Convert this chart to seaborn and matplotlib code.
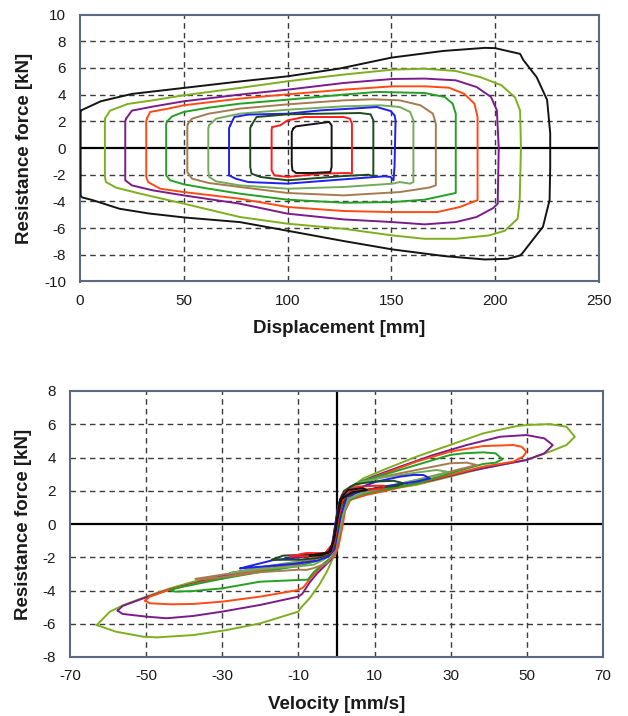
import numpy as np
import pandas as pd
import matplotlib
matplotlib.use("Agg")
import matplotlib.pyplot as plt
import seaborn as sns

# ---------------- data: force vs displacement loops (x [mm], y [kN]) ----------------
disp_black_in = [(102.7, 1.45), (104, 1.62), (116, 1.87), (120, 1.95), (121.2, 1.7), (121.2, -1.42),
                 (120.6, -1.8), (112, -1.87), (104, -1.87), (102.3, -1.67), (102, -1.17), (102, 1.2)]
disp_red = [(92.6, 1.57), (96.5, 1.7), (100, 2.07), (108, 2.32), (127, 2.32), (130, 2.2), (131, 1.82),
            (131, -1.92), (129, -1.87), (116, -1.92), (100, -2.17), (93.6, -2.05), (92.3, -1.67), (92.3, 1.4)]
disp_dkgreen = [(82.6, 1.7), (85, 2.32), (100, 2.52), (116, 2.57), (135, 2.62), (140, 2.52), (141.3, 2.07),
                (141.3, -2.12), (139, -2.0), (127, -2.1), (100, -2.42), (86.9, -2.17), (82.6, -1.92),
                (82, -1.42), (82, 1.5)]
disp_blue = [(72.4, 1.7), (74.3, 2.32), (81, 2.5), (100, 2.57), (116, 2.82), (131, 2.95), (143, 3.07),
             (149.6, 2.77), (151.5, 2.45), (152, 2.07), (151.5, -1.42), (151, -2.42), (149.6, -2.17),
             (146.7, -2.12), (131, -2.3), (100, -2.67), (81, -2.55), (75, -2.3), (71.8, -2.05), (71.8, 1.5)]
disp_ltgreen = [(62.2, 1.7), (65.6, 2.2), (77, 2.57), (100, 2.87), (127, 3.12), (144.8, 3.2), (154, 3.07),
                (159, 2.7), (160.6, 2.07), (160.6, -2.55), (159, -2.67), (154, -2.55), (150.6, -2.67),
                (127, -2.92), (100, -3.05), (77, -2.8), (65.6, -2.5), (62.2, -2.17), (61.8, -1.67), (61.8, 1.5)]
disp_brown = [(52, 1.82), (54, 2.2), (62, 2.57), (77, 2.95), (100, 3.27), (127, 3.57), (141, 3.65),
              (154, 3.57), (164, 3.2), (170, 2.57), (171.4, 1.82), (171.4, -2.8), (168, -2.97),
              (154, -3.3), (127, -3.55), (100, -3.37), (77, -2.92), (62, -2.62), (54, -2.3), (51.7, -1.8),
              (51.7, 1.6)]
disp_green = [(42, 2.0), (44.4, 2.37), (50, 2.7), (62, 3.02), (77, 3.32), (100, 3.62), (127, 4.0),
              (143, 4.2), (166, 4.12), (175.7, 3.82), (179.5, 3.32), (181, 2.57), (181, -3.37),
              (179.5, -3.42), (166, -3.87), (150.6, -4.05), (127, -4.1), (100, -3.87), (77, -3.42),
              (62, -3.05), (50, -2.72), (43.4, -2.42), (41.5, -2.05), (41.5, 1.8)]
disp_orange = [(32.2, 2.2), (33.8, 2.7), (42.5, 2.95), (50, 3.2), (77, 3.7), (100, 4.02), (127, 4.37),
               (150.6, 4.62), (166, 4.62), (177.6, 4.52), (185, 4.07), (190, 3.32), (191.5, 2.32),
               (191.5, -3.92), (189, -4.05), (183, -4.42), (172, -4.8), (150.6, -4.8), (127, -4.72),
               (100, -4.42), (77, -3.8), (50, -3.3), (38.6, -3.05), (32.8, -2.55), (31.9, -2.17), (31.9, 2.0)]
disp_purple = [(22.2, 2.2), (25, 2.8), (35, 3.1), (50, 3.5), (77, 4.0), (100, 4.37), (127, 4.87),
               (150.6, 5.17), (166, 5.2), (181, 5.07), (191, 4.57), (198, 3.82), (200.8, 2.82), (201.7, 0.0),
               (201.2, -4.17), (199, -4.5), (191, -5.17), (181, -5.55), (166, -5.72), (150.6, -5.55),
               (127, -5.35), (100, -4.92), (77, -4.17), (50, -3.55), (35, -3.17), (25, -2.8), (21.8, -2.42),
               (21.8, 2.0)]
disp_ygreen = [(12, 2.2), (14.5, 2.8), (23, 3.3), (35, 3.57), (50, 3.95), (77, 4.5), (100, 5.0), (127, 5.5),
               (150.6, 5.87), (166, 5.94), (181, 5.77), (193, 5.3), (203, 4.7), (209.5, 3.8), (212, 2.8),
               (212.4, 0.0), (211.8, -3.9), (210.8, -5.3), (204.6, -6.2), (197, -6.55), (181, -6.8),
               (166, -6.8), (150.6, -6.55), (127, -6.05), (100, -5.67), (77, -5.17), (50, -4.17),
               (29, -3.42), (17.4, -2.97), (12.5, -2.55), (12, -2.17), (12, 2.0)]
disp_black_out = [(0.3, 2.8), (10, 3.5), (25, 4.05), (50, 4.5), (75, 4.95), (100, 5.37), (125, 5.95),
                  (150, 6.77), (175, 7.27), (195, 7.5), (200, 7.48), (205, 7.3), (212, 7.05), (213.5, 6.6),
                  (220, 5.3), (225, 3.6), (226.5, 1.1), (226.5, -1.4), (226.2, -3.9), (223, -5.9),
                  (216, -7.3), (213, -7.9), (212, -8.05), (206, -8.3), (195, -8.35), (175.7, -8.1),
                  (150.6, -7.6), (127, -6.97), (100, -6.2), (77, -5.55), (50, -5.2), (33, -4.9),
                  (19, -4.55), (6, -3.9), (1, -3.7), (0.3, -3.55), (0.3, 2.6)]

# ---------------- data: force vs velocity loops (x [mm/s], y [kN]) ----------------
vel_black = [(-7, -1.9), (-4, -1.88), (-1.5, -1.65), (-0.5, -0.8), (0.4, 0.5), (1.3, 1.5), (4, 1.9),
             (8, 2.05), (7, 2.15), (3, 2.05), (1.0, 1.5), (0.1, 0.3), (-0.8, -1.0), (-2, -1.7),
             (-5, -1.82), (-7, -1.9)]
vel_red = [(-12.2, -1.95), (-8, -1.95), (-4, -1.9), (-1.5, -1.7), (-0.4, -1.0), (0.5, 0.3), (1.5, 1.4),
           (3.5, 1.95), (8, 2.05), (12.3, 2.15), (12.5, 2.3), (10, 2.3), (6, 2.25), (2.5, 2.0), (0.9, 1.3),
           (0, 0.1), (-1, -1.2), (-3, -1.75), (-8, -1.75), (-12.2, -1.95)]
vel_dkgreen = [(-17, -2.15), (-10, -2.15), (-5, -2.05), (-2, -1.85), (-0.6, -1.3), (0.3, -0.2), (1.2, 1.0),
               (2.7, 1.7), (6, 2.0), (12, 2.2), (16, 2.3), (17.6, 2.45), (15, 2.6), (10, 2.55), (5, 2.4),
               (2, 2.0), (0.6, 1.2), (-0.3, -0.2), (-1.2, -1.4), (-3, -1.8), (-8, -1.85), (-14, -1.9),
               (-17, -2.15)]
vel_blue = [(-25.3, -2.67), (-20, -2.57), (-10, -2.37), (-5, -2.2), (-2, -1.95), (-0.5, -1.5), (0.3, -0.5),
            (1.2, 0.6), (2.7, 1.64), (6.2, 1.95), (12.3, 2.25), (21, 2.55), (24.5, 2.75), (22.8, 2.95),
            (20.2, 2.95), (16.7, 2.85), (10.5, 2.55), (4.4, 2.05), (1.9, 1.64), (0.5, 1.04), (-0.4, -0.16),
            (-1.2, -1.3), (-3, -1.8), (-10, -2.01), (-16.6, -2.17), (-20.1, -2.37), (-25.3, -2.67)]
vel_ltgreen = [(-28, -2.95), (-20, -2.7), (-10, -2.55), (-6, -2.45), (-3, -2.1), (-1, -1.7), (0.5, -0.8),
               (1.5, 0.4), (3, 1.5), (7, 1.9), (12, 2.2), (20, 2.6), (27, 2.95), (29, 3.15), (26.3, 3.25),
               (21, 3.09), (12.3, 2.8), (6, 2.5), (2.5, 2.0), (0.8, 1.2), (-0.2, -0.2), (-1.2, -1.4),
               (-3, -1.85), (-10, -2.25), (-20, -2.6), (-28, -2.95)]
vel_brown = [(-37, -3.3), (-35, -3.32), (-30, -3.2), (-20.1, -2.9), (-10, -2.75), (-7.9, -2.76),
             (-6.1, -2.66), (-2.6, -2.36), (-0.4, -1.76), (0.8, -0.56), (1.9, 0.64), (3.6, 1.55), (7.1, 1.85),
             (12.3, 2.15), (21, 2.65), (29.8, 3.15), (35.1, 3.45), (36.8, 3.55), (34.2, 3.69), (29.8, 3.65),
             (21, 3.25), (12.3, 2.85), (6.2, 2.45), (2.7, 1.95), (0.9, 1.14), (-0.1, -0.16), (-1.2, -1.46),
             (-3.5, -1.86), (-10, -2.45), (-20.1, -2.75), (-30, -3.05), (-37, -3.3)]
vel_green = [(-43.7, -3.97), (-42.4, -4.07), (-37.6, -4.03), (-30, -3.87), (-20.1, -3.47), (-10, -3.37),
             (-7.5, -3.35), (-6.0, -2.9), (-3.5, -2.4), (-1.5, -2.05), (-0.5, -1.7), (0.5, -0.96), (1.4, 0.24),
             (2.7, 1.34), (6.2, 1.75), (12.3, 2.05), (21, 2.45), (29.8, 3.05), (38.5, 3.61), (41.8, 3.69),
             (43.6, 3.89), (41.8, 4.25), (38.5, 4.31), (33.2, 4.25), (29.8, 4.15), (21, 3.55), (12.3, 2.95),
             (6.2, 2.55), (2.7, 2.05), (0.9, 1.24), (-0.1, -0.16), (-1.2, -1.36), (-3.0, -1.8),
             (-4.3, -2.17), (-10, -2.53), (-20.1, -2.89), (-30, -3.29), (-41.1, -3.81), (-43.7, -3.97)]
vel_orange = [(-50.3, -4.61), (-49, -4.77), (-43.7, -4.83), (-37.6, -4.81), (-30, -4.67), (-20.1, -4.37),
              (-10, -3.97), (-8.7, -3.81), (-7.0, -3.3), (-5.0, -2.8), (-3.0, -2.35), (-1.5, -2.05),
              (-0.4, -1.9), (0.5, -1.36), (1.4, -0.36), (2.3, 0.84), (3.6, 1.45), (7.9, 1.75), (14, 2.05),
              (21, 2.45), (29.8, 2.95), (38.5, 3.45), (46.4, 3.75), (49, 4.05), (49.9, 4.35), (48.6, 4.65),
              (46.4, 4.75), (38.5, 4.69), (29.8, 4.35), (21, 3.75), (14, 3.15), (7.9, 2.65), (3.6, 2.15),
              (1.9, 1.64), (0.8, 0.84), (-0.1, -0.36), (-0.8, -1.36), (-2.1, -1.76), (-5.2, -2.06),
              (-10, -2.41), (-20.1, -2.81), (-30, -3.21), (-43.7, -3.93), (-49, -4.37), (-50.3, -4.61)]
vel_purple = [(-57.5, -5.21), (-56.2, -5.41), (-50, -5.57), (-44.6, -5.67), (-37.6, -5.53), (-30, -5.27),
              (-20.1, -4.87), (-10, -4.37), (-9.0, -4.2), (-7.0, -3.5), (-5.0, -2.95), (-3.0, -2.5),
              (-1.7, -2.2), (-0.4, -1.76), (0.5, -0.76), (1.4, 0.44), (2.7, 1.45), (5.3, 1.95), (9.6, 2.05),
              (16.7, 2.25), (25.4, 2.65), (34.2, 3.15), (43.0, 3.55), (49.9, 3.85), (54.6, 4.25),
              (56.8, 4.75), (54.6, 5.15), (49.9, 5.35), (43.0, 5.25), (34.2, 4.75), (25.4, 4.15),
              (16.7, 3.45), (9.6, 2.85), (3.6, 2.25), (1.4, 1.75), (0.4, 1.05), (-0.4, -0.15), (-1.0, -1.35),
              (-2.6, -1.8), (-5.2, -2.06), (-10, -2.33), (-20.1, -2.73), (-30, -3.13), (-43.7, -3.93),
              (-50, -4.41), (-56.2, -4.93), (-57.5, -5.21)]
vel_ygreen = [(-63.0, -6.08), (-57.9, -6.48), (-50.7, -6.78), (-47.2, -6.82), (-37.6, -6.68),
              (-28.9, -6.38), (-20.1, -5.98), (-10.0, -5.27), (-9.4, -5.05), (-7.0, -4.45), (-4.5, -3.65),
              (-2.6, -2.9), (-1.2, -2.2), (-0.4, -1.76), (0.3, -1.16), (1.0, -0.36), (1.9, 0.64), (3.6, 1.45),
              (7.1, 1.85), (12.3, 2.05), (21, 2.35), (29.8, 2.85), (38.5, 3.35), (49.9, 3.85), (56, 4.35),
              (60.4, 4.75), (62.6, 5.25), (60.4, 5.85), (56.0, 6.01), (49.9, 5.95), (47.3, 5.89),
              (38.5, 5.45), (29.8, 4.75), (21.0, 4.05), (12.3, 3.25), (7.1, 2.75), (2.7, 2.05), (0.9, 1.44),
              (0.2, 0.64), (-0.4, -0.36), (-0.8, -1.16), (-1.7, -1.66), (-2.6, -1.87), (-6.1, -2.07),
              (-10, -2.27), (-20.1, -2.67), (-30, -3.07), (-37.6, -3.47), (-43.7, -3.87), (-50, -4.37),
              (-55.9, -4.87), (-59.5, -5.27), (-63.0, -6.08)]

colors = {
    "black_in": "#141414", "red": "#ff1c1c", "dkgreen": "#1d4a1f", "blue": "#1f1fee",
    "ltgreen": "#74aa5c", "brown": "#a67b52", "green": "#24a024", "orange": "#ff4a14",
    "purple": "#7c1b8c", "ygreen": "#7fae1f", "black_out": "#141414",
}

disp_loops = {"black_out": disp_black_out, "ygreen": disp_ygreen, "purple": disp_purple,
              "orange": disp_orange, "green": disp_green, "brown": disp_brown, "ltgreen": disp_ltgreen,
              "blue": disp_blue, "dkgreen": disp_dkgreen, "red": disp_red, "black_in": disp_black_in}
vel_loops = {"ygreen": vel_ygreen, "purple": vel_purple, "orange": vel_orange, "green": vel_green,
             "brown": vel_brown, "ltgreen": vel_ltgreen, "blue": vel_blue, "dkgreen": vel_dkgreen,
             "red": vel_red, "black_in": vel_black}

disp_xticks = [0, 50, 100, 150, 200, 250]
disp_yticks = [-10, -8, -6, -4, -2, 0, 2, 4, 6, 8, 10]
vel_xticks = [-70, -50, -30, -10, 10, 30, 50, 70]
vel_yticks = [-8, -6, -4, -2, 0, 2, 4, 6, 8]


def to_frame(loops):
    rows = []
    for name, pts in loops.items():
        closed = list(pts) + [pts[0]]
        for i, (x, y) in enumerate(closed):
            rows.append({"loop": name, "i": i, "x": x, "y": y})
    return pd.DataFrame(rows)


sns.set_theme(style="white")
plt.rcParams["font.family"] = ["Liberation Sans", "DejaVu Sans"]
plt.rcParams["axes.unicode_minus"] = False

fig = plt.figure(figsize=(6.28, 7.16), dpi=100)
ax1 = fig.add_axes([80 / 628, 1 - 281.5 / 716, 519 / 628, 267 / 716])
ax2 = fig.add_axes([70 / 628, 1 - 657 / 716, 533 / 628, 266 / 716])

spine_col = "#5b6a80"
grid_kw = dict(color="#3c3c3c", lw=1.0, ls=(0, (4, 3)), zorder=1)


def style(ax, xticks, yticks, xlabel, ylabel, ylab_x):
    ax.set_xticks(xticks)
    ax.set_yticks(yticks)
    ax.set_xlim(xticks[0], xticks[-1])
    ax.set_ylim(yticks[0], yticks[-1])
    for t in xticks[1:-1]:
        ax.axvline(t, **grid_kw)
    for t in yticks[1:-1]:
        if t != 0:
            ax.axhline(t, **grid_kw)
    ax.axhline(0, color="black", lw=1.6, zorder=2)
    for s in ax.spines.values():
        s.set_color(spine_col)
        s.set_linewidth(1.5)
        s.set_visible(True)
    ax.tick_params(length=0, labelsize=11, labelcolor="#1a1a1a")
    ax.tick_params(axis="y", pad=10)
    ax.tick_params(axis="x", pad=9)
    ax.set_xlabel(xlabel, fontsize=13.5, fontweight="bold", color="#1a1a1a")
    ax.set_ylabel(ylabel, fontsize=13.5, fontweight="bold", color="#1a1a1a")
    ax.xaxis.set_label_coords(0.5, -0.145)
    ax.yaxis.set_label_coords(ylab_x, 0.5)


df1 = to_frame(disp_loops)
sns.lineplot(data=df1, x="x", y="y", hue="loop", palette=colors, sort=False, estimator=None,
             lw=1.4, legend=False, ax=ax1, zorder=3)
style(ax1, disp_xticks, disp_yticks, "Displacement [mm]", "Resistance force [kN]", -0.0905)

df2 = to_frame(vel_loops)
sns.lineplot(data=df2, x="x", y="y", hue="loop", palette=colors, sort=False, estimator=None,
             lw=1.4, legend=False, ax=ax2, zorder=3)
style(ax2, vel_xticks, vel_yticks, "Velocity [mm/s]", "Resistance force [kN]", -0.071)
ax2.axvline(0, color="black", lw=1.6, zorder=2)

fig.savefig("out.png", dpi=100)
